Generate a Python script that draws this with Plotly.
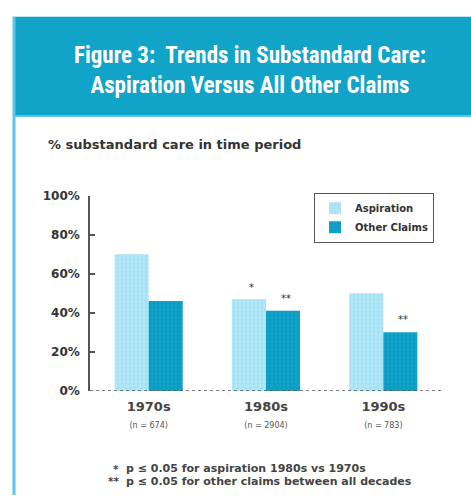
import plotly.graph_objects as go

W, H = 471, 502

categories = ["1970s", "1980s", "1990s"]
n_values = ["674", "2904", "783"]
aspiration = [70, 47, 50]
other_claims = [46, 41, 30]
asp_marks = ["", "*", ""]
other_marks = ["", "**", "**"]
y_ticks = [0, 20, 40, 60, 80, 100]
y_ticktext = ["0%", "20%", "40%", "60%", "80%", "100%"]

title_lines = ["Figure 3:  Trends in Substandard Care:", "Aspiration Versus All Other Claims"]
y_title = "% substandard care in time period"
footnotes = [("*", "p \u2264 0.05 for aspiration 1980s vs 1970s"),
             ("**", "p \u2264 0.05 for other claims between all decades")]

def px(x):
    return x / W

def py(y):
    return 1 - y / H

BAND = "#12a4c8"
EDGE = "#5cc6e6"
LIGHT = "#a6e2f4"
DARK = "#0a9cc3"
TXT = "#333333"
FONT = "DejaVu Sans"
TFONT = "Liberation Sans Narrow, Roboto Condensed, Arial Narrow, Liberation Sans"

fig = go.Figure()
xidx = list(range(len(categories)))
fig.add_trace(go.Bar(
    x=xidx, y=aspiration, name="Aspiration",
    marker=dict(color=LIGHT, line=dict(width=0),
                pattern=dict(shape=".", fgcolor="#c9f0fb", size=4, solidity=0.3)),
))
fig.add_trace(go.Bar(
    x=xidx, y=other_claims, name="Other Claims",
    marker=dict(color=DARK, line=dict(width=0),
                pattern=dict(shape=".", fgcolor="#22b0d2", size=4, solidity=0.3)),
))

shapes = [
    dict(type="rect", xref="paper", yref="paper", x0=px(13), x1=1, y0=py(112), y1=py(10),
         fillcolor=BAND, line=dict(width=0), layer="below"),
    dict(type="line", xref="paper", yref="paper", x0=px(13), x1=1, y0=py(112), y1=py(112),
         line=dict(color=EDGE, width=2)),
    dict(type="line", xref="paper", yref="paper", x0=px(14), x1=px(14), y0=0, y1=py(10),
         line=dict(color=EDGE, width=3)),
    dict(type="line", xref="paper", yref="y", x0=px(90), x1=px(442), y0=0, y1=0,
         line=dict(color="#555555", width=1.5, dash="dot")),
]

annotations = [
    dict(text="<br>".join(title_lines), xref="paper", yref="paper", x=px(250), y=py(65),
         xanchor="center", yanchor="middle", showarrow=False,
         font=dict(family=TFONT, size=23, color="white", weight="bold"), align="center"),
    dict(text=y_title, xref="paper", yref="paper", x=px(46), y=py(141),
         xanchor="left", yanchor="middle", showarrow=False,
         font=dict(family=FONT, size=13, color=TXT, weight="bold")),
]

off = 0.145
for i, (a, o) in enumerate(zip(aspiration, other_claims)):
    if asp_marks[i]:
        annotations.append(dict(text=asp_marks[i], x=i - off, y=a, xref="x", yref="y",
                                showarrow=False, yanchor="bottom", xshift=3, yshift=4,
                                font=dict(family=FONT, size=10, color=TXT)))
    if other_marks[i]:
        annotations.append(dict(text=other_marks[i], x=i + off, y=o, xref="x", yref="y",
                                showarrow=False, yanchor="bottom", xshift=3, yshift=5,
                                font=dict(family=FONT, size=10, color=TXT)))

for k, (star, txt) in enumerate(footnotes):
    yy = py(475 + 13 * k)
    annotations.append(dict(text=star, xref="paper", yref="paper", x=px(121), y=yy,
                            xanchor="right", yanchor="middle", showarrow=False,
                            font=dict(family=FONT, size=10.5, color="#444444", weight="bold")))
    annotations.append(dict(text=txt, xref="paper", yref="paper", x=px(124), y=yy,
                            xanchor="left", yanchor="middle", showarrow=False,
                            font=dict(family=FONT, size=11, color="#444444", weight="bold")))

ticktext = [f"<b style='font-size:13px'>{c}</b><br><span style='font-size:8px;color:#555'>(n = {n})</span>"
            for c, n in zip(categories, n_values)]

fig.update_layout(
    width=W, height=H,
    margin=dict(l=0, r=0, t=0, b=0),
    paper_bgcolor="white", plot_bgcolor="white",
    barmode="group", bargap=0.42, bargroupgap=0,
    shapes=shapes, annotations=annotations,
    showlegend=True,
    legend=dict(x=px(314), y=py(191), xanchor="left", yanchor="top",
                bordercolor="#555555", borderwidth=1, bgcolor="white",
                font=dict(family=FONT, size=10, color=TXT, weight="bold"),
                itemwidth=30, tracegroupgap=2),
    xaxis=dict(domain=[px(90), px(442)], range=[-0.5, 2.5],
               tickmode="array", tickvals=xidx, ticktext=ticktext,
               showline=False, showgrid=False, zeroline=False, ticks="",
               tickfont=dict(family=FONT, size=13, color="#444444"), ticklabelstandoff=6),
    yaxis=dict(domain=[py(395), py(194)], range=[0, 100],
               tickmode="array", tickvals=y_ticks, ticktext=y_ticktext,
               showline=True, linecolor="#555555", linewidth=1.5,
               ticks="inside", ticklen=5, tickcolor="#555555", tickwidth=1.5,
               showgrid=False, zeroline=False,
               tickfont=dict(family=FONT, size=12, color=TXT, weight="bold"), ticklabelstandoff=6),
)

fig.write_html("out.html")
